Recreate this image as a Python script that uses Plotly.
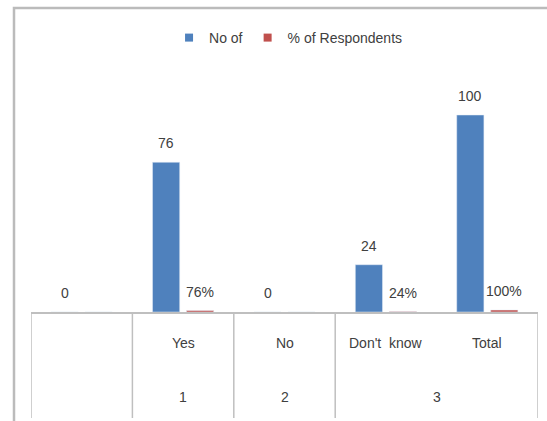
import plotly.graph_objects as go

# ---- data ----
categories = ["", "Yes", "No", "Don't  know", "Total"]
groups = ["", "1", "2", "3", "3"]
no_of = [0, 76, 0, 24, 100]
pct_respondents = [None, 0.76, None, 0.24, 1.00]

BLUE = "#4F81BD"
RED = "#C0504D"
TXT = "#404040"
FONT = "Liberation Sans Narrow, Arial Narrow, Arial, sans-serif"
GRID = "#BFBFBF"
FS = 14

W, H = 547, 421
ML, MR, MT, MB = 31, 9, 60, 109
plot_h = H - MT - MB
plot_w = W - ML - MR

xs = list(range(len(categories)))
bargap, bargroupgap = 0.33, 0.2
off = (1 - bargap) / 4  # centre offset of each bar in a 2-bar group

fig = go.Figure()
fig.add_trace(go.Bar(x=xs, y=no_of, name="No of", marker_color=BLUE,
                     showlegend=False))
fig.add_trace(go.Bar(x=xs, y=[v if v is not None else 0 for v in pct_respondents],
                     name="% of Respondents", marker_color=RED, showlegend=False))
# legend entries with small square symbols
fig.add_trace(go.Scatter(x=[None], y=[None], mode="markers", name="No of",
                         marker=dict(symbol="square", size=8, color=BLUE)))
fig.add_trace(go.Scatter(x=[None], y=[None], mode="markers", name="% of Respondents",
                         marker=dict(symbol="square", size=8, color=RED)))

annotations = []
for i, v in enumerate(no_of):
    annotations.append(dict(x=i - off, y=v, xref="x", yref="y", text=str(v),
                            showarrow=False, yshift=19, yanchor="middle",
                            font=dict(family=FONT, size=FS, color=TXT)))
for i, v in enumerate(pct_respondents):
    if v is None:
        continue
    annotations.append(dict(x=i + off, y=v, xref="x", yref="y",
                            text=f"{v*100:.0f}%", showarrow=False, yshift=19,
                            yanchor="middle",
                            font=dict(family=FONT, size=FS, color=TXT)))

# category table below axis
row1_y = -31 / plot_h
row2_y = -85 / plot_h
table_bottom = -106 / plot_h
for i, c in enumerate(categories):
    if c:
        annotations.append(dict(x=i, y=row1_y, xref="x", yref="paper", text=c,
                                showarrow=False, yanchor="middle",
                                font=dict(family=FONT, size=FS, color=TXT)))

# group spans
spans = []
start = 0
for i in range(1, len(groups) + 1):
    if i == len(groups) or groups[i] != groups[start]:
        spans.append((start, i - 1, groups[start]))
        start = i
shapes = []
bounds = [spans[0][0] - 0.5] + [s[1] + 0.5 for s in spans]
for b in bounds:
    shapes.append(dict(type="line", xref="x", yref="paper", x0=b, x1=b,
                       y0=0, y1=table_bottom, line=dict(color=GRID, width=1.5)))
for s0, s1, g in spans:
    if g:
        annotations.append(dict(x=(s0 + s1) / 2, y=row2_y, xref="x", yref="paper",
                                text=g, showarrow=False, yanchor="middle",
                                font=dict(family=FONT, size=FS, color=TXT)))

# outer chart frame
shapes.append(dict(type="rect", xref="paper", yref="paper",
                   x0=(14 - ML) / plot_w, x1=1.2, y0=-0.6, y1=(MT + plot_h - 8) / plot_h,
                   line=dict(color="#BBBBBB", width=2.5), fillcolor="rgba(0,0,0,0)",
                   layer="below"))

fig.update_layout(
    width=W, height=H,
    margin=dict(l=ML, r=MR, t=MT, b=MB),
    paper_bgcolor="white", plot_bgcolor="white",
    barmode="group", bargap=bargap, bargroupgap=bargroupgap,
    xaxis=dict(range=[-0.5, len(categories) - 0.5], showticklabels=False,
               showgrid=False, zeroline=False, showline=True, linecolor=GRID,
               linewidth=1.5, ticks="", fixedrange=True),
    yaxis=dict(range=[0, plot_h / 1.97], visible=False, showgrid=False,
               zeroline=False, fixedrange=True),
    legend=dict(orientation="h", x=0.507, xanchor="center",
                y=(MT + plot_h - 38) / plot_h, yanchor="middle",
                font=dict(family=FONT, size=FS, color=TXT),
                itemwidth=30, bgcolor="rgba(0,0,0,0)"),
    annotations=annotations,
    shapes=shapes,
    font=dict(family=FONT, color=TXT),
)

fig.write_html("out.html")
